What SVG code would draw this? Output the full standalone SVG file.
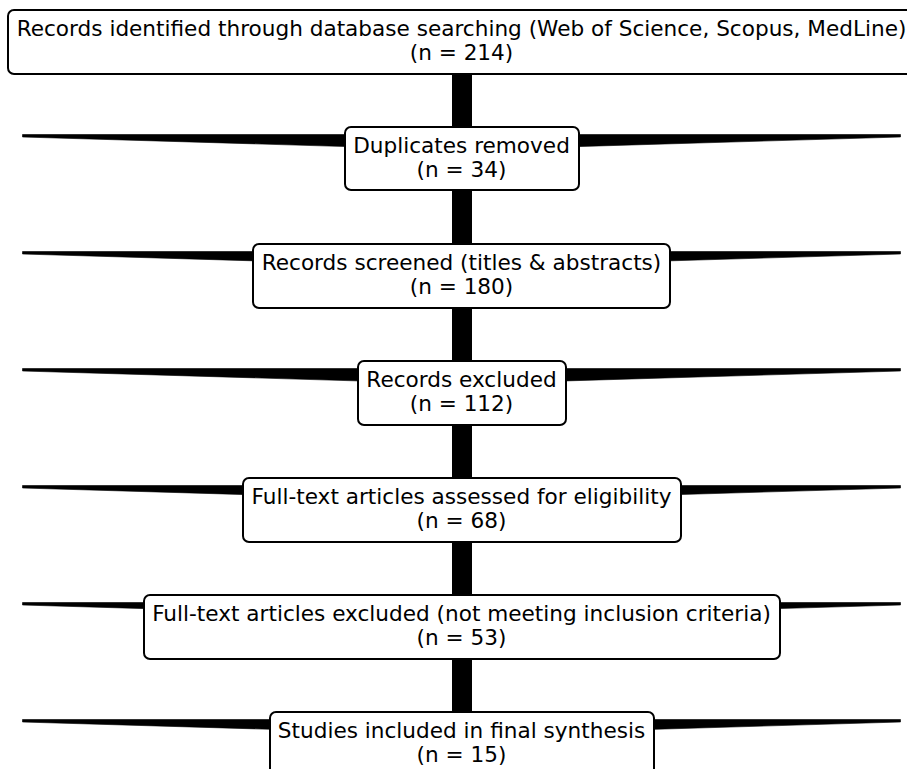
<svg xmlns="http://www.w3.org/2000/svg" width="907" height="769" viewBox="0 0 907 769">
<style>
.box{fill:#fff;stroke:#000;stroke-width:2}
.t{font-family:"DejaVu Sans",sans-serif;font-size:21.6px;fill:#000;text-anchor:middle}
.w{fill:#000;stroke:#000;stroke-width:0.6;stroke-linejoin:round}
</style>
<rect width="907" height="769" fill="#fff"/>
<g id="connectors">
  <rect x="452" y="73" width="20" height="55"/>
  <rect x="452" y="189" width="20" height="56"/>
  <rect x="452" y="307" width="20" height="55"/>
  <rect x="452" y="424" width="20" height="55"/>
  <rect x="452" y="541" width="20" height="55"/>
  <rect x="452" y="658" width="20" height="55"/>
  <polygon class="w" points="22.5,134.5 462,134.5 462,150 22.5,137"/>
  <polygon class="w" points="900.5,134.5 462,134.5 462,150 900.5,137"/>
  <polygon class="w" points="22.5,251.5 462,251.5 462,267 22.5,254"/>
  <polygon class="w" points="900.5,251.5 462,251.5 462,267 900.5,254"/>
  <polygon class="w" points="22.5,368.5 462,368.5 462,384 22.5,371"/>
  <polygon class="w" points="900.5,368.5 462,368.5 462,384 900.5,371"/>
  <polygon class="w" points="22.5,485.5 462,485.5 462,501 22.5,488"/>
  <polygon class="w" points="900.5,485.5 462,485.5 462,501 900.5,488"/>
  <polygon class="w" points="22.5,602.5 462,602.5 462,618 22.5,605"/>
  <polygon class="w" points="900.5,602.5 462,602.5 462,618 900.5,605"/>
  <polygon class="w" points="22.5,719.5 462,719.5 462,735 22.5,722"/>
  <polygon class="w" points="900.5,719.5 462,719.5 462,735 900.5,722"/>
</g>
<g id="node1">
  <rect class="box" x="8" y="10" width="907" height="64" rx="6"/>
  <text class="t" x="461.5" y="35.5">Records identified through database searching (Web of Science, Scopus, MedLine)</text>
  <text class="t" x="461.5" y="60">(n = 214)</text>
</g>
<g id="node2">
  <rect class="box" x="345" y="127" width="234" height="63" rx="6"/>
  <text class="t" x="461.5" y="152.5">Duplicates removed</text>
  <text class="t" x="461.5" y="177">(n = 34)</text>
</g>
<g id="node3">
  <rect class="box" x="253" y="244" width="417" height="64" rx="6"/>
  <text class="t" x="461.5" y="269.5">Records screened (titles &amp; abstracts)</text>
  <text class="t" x="461.5" y="294">(n = 180)</text>
</g>
<g id="node4">
  <rect class="box" x="358" y="361" width="208" height="64" rx="6"/>
  <text class="t" x="461.5" y="386.5">Records excluded</text>
  <text class="t" x="461.5" y="411">(n = 112)</text>
</g>
<g id="node5">
  <rect class="box" x="243" y="478" width="438" height="64" rx="6"/>
  <text class="t" x="461.5" y="503.5">Full-text articles assessed for eligibility</text>
  <text class="t" x="461.5" y="528">(n = 68)</text>
</g>
<g id="node6">
  <rect class="box" x="144" y="595" width="636" height="64" rx="6"/>
  <text class="t" x="461.5" y="620.5">Full-text articles excluded (not meeting inclusion criteria)</text>
  <text class="t" x="461.5" y="645">(n = 53)</text>
</g>
<g id="node7">
  <rect class="box" x="270" y="712" width="384" height="64" rx="6"/>
  <text class="t" x="461.5" y="737.5">Studies included in final synthesis</text>
  <text class="t" x="461.5" y="762">(n = 15)</text>
</g>
</svg>
